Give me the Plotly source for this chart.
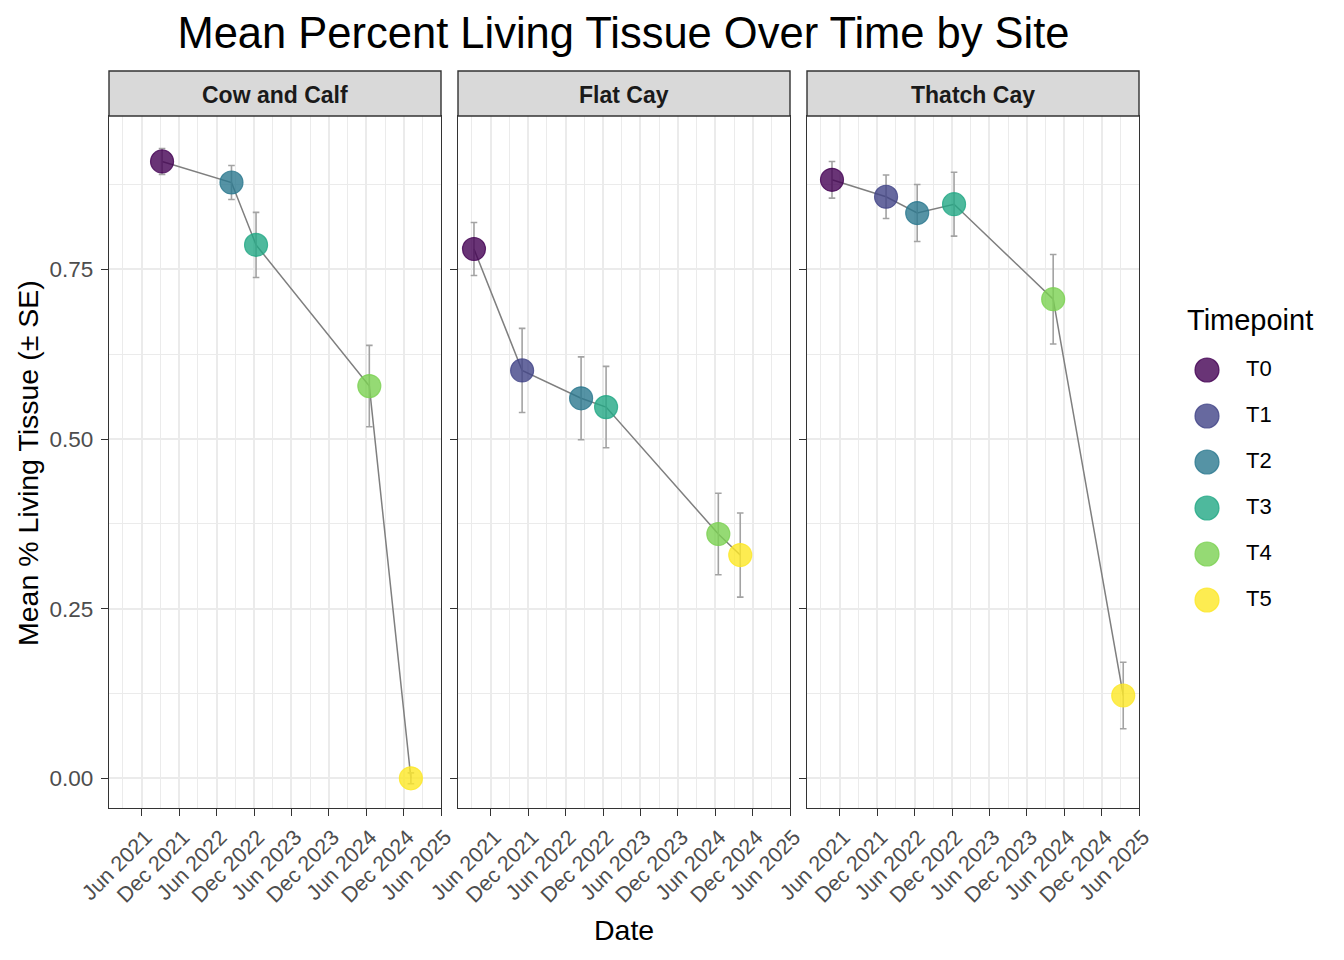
import plotly.graph_objects as go

# ---------------- data ----------------
sites = ["Cow and Calf", "Flat Cay", "Thatch Cay"]
timepoints = ["T0", "T1", "T2", "T3", "T4", "T5"]

site = (["Cow and Calf"] * 5) + (["Flat Cay"] * 6) + (["Thatch Cay"] * 6)
timepoint = ["T0", "T2", "T3", "T4", "T5",
             "T0", "T1", "T2", "T3", "T4", "T5",
             "T0", "T1", "T2", "T3", "T4", "T5"]
date = ["2021-09-08", "2022-08-13", "2022-12-11", "2024-06-16", "2025-01-05",
        "2021-03-11", "2021-11-01", "2022-08-16", "2022-12-16", "2024-06-16", "2024-10-01",
        "2021-04-24", "2022-01-13", "2022-06-14", "2022-12-11", "2024-04-08", "2025-03-16"]
mean_tissue = [0.909, 0.878, 0.786, 0.578, 0.000,
               0.780, 0.601, 0.560, 0.547, 0.360, 0.329,
               0.882, 0.857, 0.833, 0.846, 0.706, 0.122]
se_tissue = [0.019, 0.025, 0.048, 0.060, 0.008,
             0.039, 0.062, 0.061, 0.060, 0.060, 0.062,
             0.027, 0.032, 0.042, 0.047, 0.066, 0.049]

x_tick_vals = ["2021-06-01", "2021-12-01", "2022-06-01", "2022-12-01", "2023-06-01",
               "2023-12-01", "2024-06-01", "2024-12-01", "2025-06-01"]
x_tick_text = ["Jun 2021", "Dec 2021", "Jun 2022", "Dec 2022", "Jun 2023",
               "Dec 2023", "Jun 2024", "Dec 2024", "Jun 2025"]
y_tick_vals = [0.0, 0.25, 0.5, 0.75]
y_tick_text = ["0.00", "0.25", "0.50", "0.75"]

viridis6 = ["#440154", "#414487", "#2A788E", "#22A884", "#7AD151", "#FDE725"]

# ---------------- style ----------------
OFF = 8                      # page body margin in the browser
W, H = 1344 - OFF, 960 - OFF
FONT = "Liberation Sans, Arial, sans-serif"
PANELS = [(109, 441), (458, 790), (807, 1139)]
PLOT_TOP, PLOT_BOTTOM = 116, 808
STRIP_TOP = 71
ALPHA = 0.8


def hex_rgba(h, a):
    h = h.lstrip("#")
    return "rgba(%d,%d,%d,%.2f)" % (int(h[0:2], 16), int(h[2:4], 16), int(h[4:6], 16), a)


def fx(p):
    return (p - OFF) / W


def fy(p):
    return 1 - (p - OFF) / H


fig = go.Figure()

for i, s in enumerate(sites):
    idx = [k for k, v in enumerate(site) if v == s]
    xs = [date[k] for k in idx]
    ys = [mean_tissue[k] for k in idx]
    es = [se_tissue[k] for k in idx]
    tps = [timepoint[k] for k in idx]
    cols = [hex_rgba(viridis6[timepoints.index(t)], ALPHA) for t in tps]
    suffix = "" if i == 0 else str(i + 1)
    xa, ya = "x" + suffix, "y" + suffix
    fig.add_trace(go.Scatter(x=xs, y=ys, mode="lines", xaxis=xa, yaxis=ya,
                             line=dict(color="#7f7f7f", width=1.5),
                             showlegend=False, hoverinfo="skip"))
    fig.add_trace(go.Scatter(x=xs, y=ys, mode="markers", xaxis=xa, yaxis=ya,
                             marker=dict(size=1, opacity=0),
                             error_y=dict(type="data", array=es, color="#a3a3a3",
                                          thickness=1.6, width=3.3),
                             showlegend=False, hoverinfo="skip"))
    fig.add_trace(go.Scatter(x=xs, y=ys, mode="markers", xaxis=xa, yaxis=ya,
                             marker=dict(size=23, color=cols,
                                         line=dict(width=1.2, color=cols)),
                             text=tps, showlegend=False))

# legend key (own small axis)
key_cols = [hex_rgba(c, ALPHA) for c in viridis6]
fig.add_trace(go.Scatter(x=[27] * len(timepoints), y=timepoints, mode="markers",
                         xaxis="x4", yaxis="y4",
                         marker=dict(size=24, color=key_cols, line=dict(width=1.2, color=key_cols)),
                         showlegend=False, hoverinfo="skip"))
fig.add_trace(go.Scatter(x=[66] * len(timepoints), y=timepoints, mode="text",
                         xaxis="x4", yaxis="y4", text=timepoints, textposition="middle right",
                         textfont=dict(family=FONT, size=22, color="#000000"),
                         showlegend=False, hoverinfo="skip"))

axis_common = dict(showline=True, mirror=True, linecolor="#333333", linewidth=1.4,
                   ticks="outside", ticklen=7, tickcolor="#333333", tickwidth=1.4,
                   gridcolor="#ebebeb", gridwidth=1.6, zeroline=False, automargin=False,
                   tickfont=dict(family=FONT, size=22.5, color="#4d4d4d"))

layout = dict(width=W, height=H, margin=dict(l=0, r=0, t=0, b=0, pad=0),
              paper_bgcolor="white", plot_bgcolor="white", showlegend=False,
              title=dict(text="Mean Percent Living Tissue Over Time by Site",
                         x=fx(623.5), xanchor="center", y=fy(33), yanchor="middle",
                         xref="paper", yref="container",
                         font=dict(family=FONT, size=43.5, color="#000000")))

for i, (x0, x1) in enumerate(PANELS):
    suffix = "" if i == 0 else str(i + 1)
    layout["xaxis" + suffix] = dict(
        axis_common, type="date", domain=[fx(x0), fx(x1)], anchor="y" + suffix,
        range=["2020-12-23", "2025-06-01"], tickmode="array",
        tickvals=x_tick_vals, ticktext=x_tick_text, tickangle=-45,
        tickfont=dict(family=FONT, size=21.5, color="#4d4d4d"), ticklabelshift=4,
        minor=dict(showgrid=True, gridcolor="#ebebeb", gridwidth=0.8,
                   dtick="M6", tick0="2021-03-01"))
    layout["yaxis" + suffix] = dict(
        axis_common, domain=[fy(PLOT_BOTTOM), fy(PLOT_TOP)], anchor="x" + suffix,
        range=[-0.0438, 0.976], tickmode="array", tickvals=y_tick_vals,
        ticktext=y_tick_text, showticklabels=(i == 0), ticklabelstandoff=3,
        minor=dict(showgrid=True, gridcolor="#ebebeb", gridwidth=0.8,
                   dtick=0.25, tick0=0.125))

layout["xaxis4"] = dict(domain=[fx(1180), fx(1340)], range=[0, 160], visible=False,
                        anchor="y4", fixedrange=True, automargin=False)
layout["yaxis4"] = dict(domain=[fy(623), fy(347)], type="category",
                        categoryorder="array", categoryarray=timepoints,
                        range=[len(timepoints) - 0.5, -0.5], visible=False,
                        anchor="x4", fixedrange=True, automargin=False)

shapes = []
annotations = []
for i, (x0, x1) in enumerate(PANELS):
    shapes.append(dict(type="rect", xref="paper", yref="paper",
                       x0=fx(x0), x1=fx(x1), y0=fy(PLOT_TOP), y1=fy(STRIP_TOP),
                       fillcolor="#d9d9d9", line=dict(color="#333333", width=1.4),
                       layer="above"))
    annotations.append(dict(text="<b>%s</b>" % sites[i], xref="paper", yref="paper",
                            x=fx((x0 + x1) / 2), y=fy((PLOT_TOP + STRIP_TOP) / 2 + 1.5),
                            xanchor="center", yanchor="middle", showarrow=False,
                            font=dict(family=FONT, size=23, color="#1a1a1a")))

annotations.append(dict(text="Date", xref="paper", yref="paper", x=fx(624), y=fy(930),
                        xanchor="center", yanchor="middle", showarrow=False,
                        font=dict(family=FONT, size=28.5, color="#000000")))
annotations.append(dict(text="Mean % Living Tissue (± SE)", xref="paper", yref="paper",
                        x=fx(28), y=fy(463), textangle=-90,
                        xanchor="center", yanchor="middle", showarrow=False,
                        font=dict(family=FONT, size=28.5, color="#000000")))
annotations.append(dict(text="Timepoint", xref="paper", yref="paper", x=fx(1185), y=fy(320),
                        xanchor="left", yanchor="middle", showarrow=False,
                        font=dict(family=FONT, size=29, color="#000000")))

layout["shapes"] = shapes
layout["annotations"] = annotations
fig.update_layout(**layout)

fig.write_html("out.html")
